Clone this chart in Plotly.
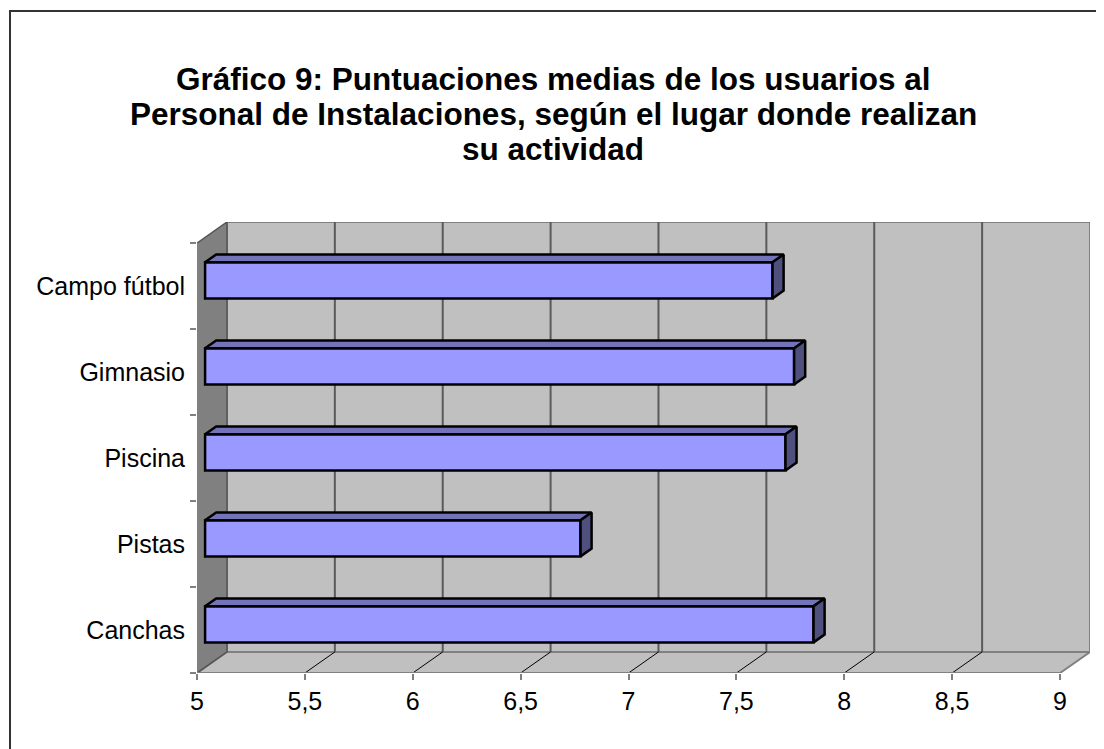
import plotly.graph_objects as go

# datos del gráfico 9
lugares = ['Canchas', 'Pistas', 'Piscina', 'Gimnasio', 'Campo fútbol']
puntuaciones = [7.82, 6.74, 7.69, 7.73, 7.63]
ticks_x = [5, 5.5, 6, 6.5, 7, 7.5, 8, 8.5, 9]
ticks_x_txt = ['5', '5,5', '6', '6,5', '7', '7,5', '8', '8,5', '9']
titulo = ['Gráfico 9: Puntuaciones medias de los usuarios al',
          'Personal de Instalaciones, según el lugar donde realizan',
          'su actividad']

# profundidad del efecto 3D (en unidades de los ejes)
DX = 30 / 216
DY = 21 / 85.8
X0, X1 = 5, 9
Y0, Y1 = -0.5, len(lugares) - 0.5
ANCHO = 0.42
F0, F1 = 0.27, 0.37  # posición y grosor de la barra en profundidad

# la página tiene 8px de margen en el body
W, H = 1096, 741
ML, MR, MT, MB = 189, 14, 214, 76
pw, ph = W - ML - MR, H - MT - MB

fig = go.Figure()

ys = [i + F0 * DY for i in range(len(lugares))]
fig.add_trace(go.Bar(
    y=ys, x=[v - X0 for v in puntuaciones], base=X0 + F0 * DX,
    orientation='h', width=ANCHO,
    marker=dict(color='#9999ff', line=dict(color='black', width=2.5)),
    hoverinfo='skip'
))

# caras superior y lateral de cada barra
dx, dy = F1 * DX, F1 * DY
for y, v in zip(ys, puntuaciones):
    xa, xb = X0 + F0 * DX, v + F0 * DX
    yt, yb = y + ANCHO / 2, y - ANCHO / 2
    fig.add_trace(go.Scatter(
        x=[xa, xb, xb + dx, xa + dx, xa], y=[yt, yt, yt + dy, yt + dy, yt],
        fill='toself', fillcolor='#7373b9', mode='lines',
        line=dict(color='black', width=2.5), hoverinfo='skip'))
    fig.add_trace(go.Scatter(
        x=[xb, xb + dx, xb + dx, xb, xb], y=[yb, yb + dy, yt + dy, yt, yb],
        fill='toself', fillcolor='#50507f', mode='lines',
        line=dict(color='black', width=2.5), hoverinfo='skip'))

shapes = []
gris = '#808080'
# pared del fondo
shapes.append(dict(type='rect', x0=X0 + DX, x1=X1 + DX, y0=Y0 + DY, y1=Y1 + DY,
                   fillcolor='#c0c0c0', line=dict(color=gris, width=2), layer='below'))
# suelo
shapes.append(dict(type='path', path=f'M {X0},{Y0} L {X1},{Y0} L {X1 + DX},{Y0 + DY} L {X0 + DX},{Y0 + DY} Z',
                   fillcolor='#c0c0c0', line=dict(color=gris, width=2), layer='below'))
# pared lateral
shapes.append(dict(type='path', path=f'M {X0},{Y0} L {X0 + DX},{Y0 + DY} L {X0 + DX},{Y1 + DY} L {X0},{Y1} Z',
                   fillcolor='#808080', line=dict(color='#555555', width=1.5), layer='below'))
for t in ticks_x[1:-1]:
    shapes.append(dict(type='line', x0=t + DX, x1=t + DX, y0=Y0 + DY, y1=Y1 + DY,
                       line=dict(color='#5a5a5a', width=2), layer='below'))
    shapes.append(dict(type='line', x0=t, x1=t + DX, y0=Y0, y1=Y0 + DY,
                       line=dict(color='black', width=1), layer='below'))
# ejes frontales
shapes.append(dict(type='line', x0=X0, x1=X1, y0=Y0, y1=Y0, line=dict(color=gris, width=2)))
shapes.append(dict(type='line', x0=X0, x1=X0, y0=Y0, y1=Y1, line=dict(color=gris, width=2)))
# borde exterior
shapes.append(dict(type='rect', xref='paper', yref='paper',
                   x0=(2 - ML) / pw, x1=(W + 20 - ML) / pw,
                   y0=(MT + ph - H - 20) / ph, y1=(MT + ph - 3) / ph,
                   line=dict(color='#333333', width=2)))

# título en tres líneas, con interlineado de Excel (~35px)
anots = []
for k, linea in enumerate(titulo):
    ypx = 71 + 35 * k
    anots.append(dict(text=f'<b>{linea}</b>', xref='paper', yref='paper',
                      x=(545 - ML) / pw, y=(MT + ph - ypx) / ph,
                      xanchor='center', yanchor='middle', showarrow=False,
                      font=dict(size=31.5, family='Liberation Sans, Arial', color='black')))

fig.update_layout(
    width=W, height=H,
    margin=dict(l=ML, r=MR, t=MT, b=MB),
    paper_bgcolor='white', plot_bgcolor='rgba(0,0,0,0)',
    showlegend=False, shapes=shapes, annotations=anots,
    font=dict(family='Liberation Sans, Arial', size=25, color='black'),
    xaxis=dict(range=[X0, X1 + DX], tickvals=ticks_x, ticktext=ticks_x_txt,
               showgrid=False, zeroline=False, showline=False,
               ticks='outside', ticklen=6, tickcolor=gris, tickwidth=1.5),
    yaxis=dict(range=[Y0, Y1 + DY], tickvals=list(range(len(lugares))), ticktext=lugares,
               showgrid=False, zeroline=False, showline=False,
               ticks='outside', ticklen=6, tickcolor='rgba(0,0,0,0)',
               minor=dict(tickvals=[i - 0.5 for i in range(len(lugares) + 1)],
                          ticks='outside', ticklen=6, tickcolor=gris, tickwidth=1.5)),
)

fig.write_html('out.html')
